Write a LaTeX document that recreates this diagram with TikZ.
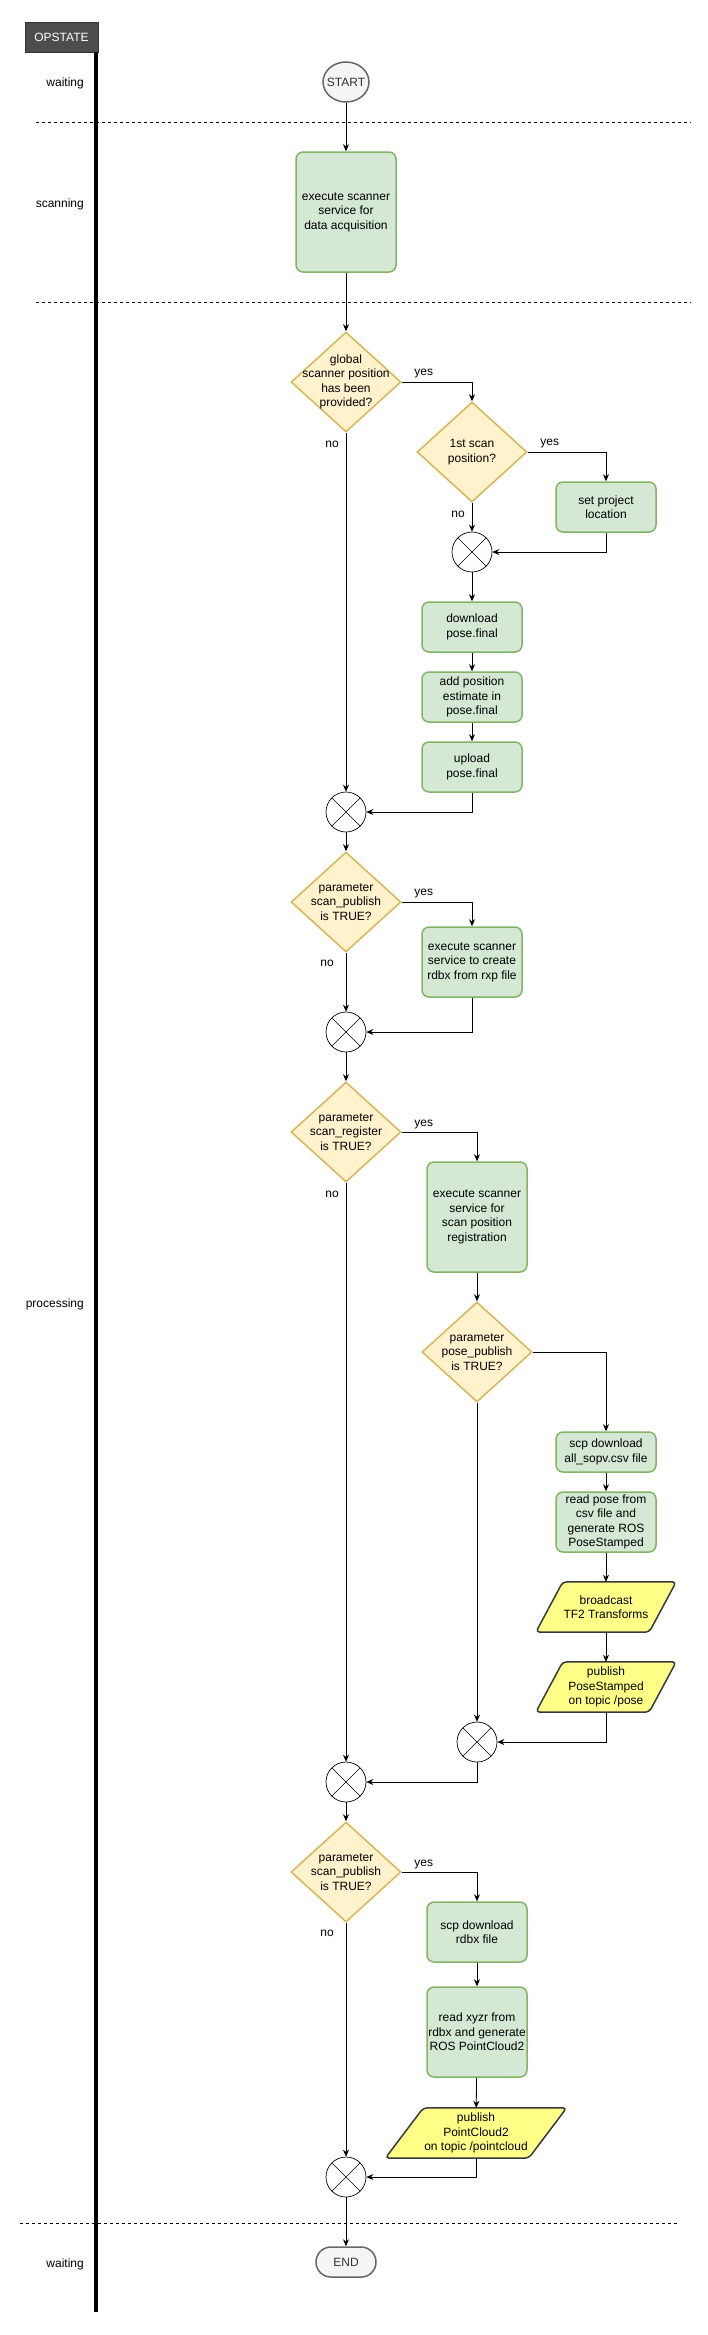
\documentclass[tikz,border=0pt]{standalone}
\usepackage{fontspec}
\setmainfont{Liberation Sans}
\usetikzlibrary{arrows.meta,shapes.geometric,backgrounds}
\definecolor{gfill}{HTML}{D5E8D4}
\definecolor{gline}{HTML}{82B366}
\definecolor{yfill}{HTML}{FFF2CC}
\definecolor{yline}{HTML}{D6B656}
\definecolor{pfill}{HTML}{FFFF88}
\definecolor{pline}{HTML}{36393D}
\definecolor{sfill}{HTML}{F5F5F5}
\definecolor{sline}{HTML}{666666}
\definecolor{stext}{HTML}{333333}
\definecolor{hdrgray}{HTML}{4D4D4D}
\begin{document}
\begin{tikzpicture}[x=1pt,y=-1pt,
  font=\fontsize{12}{14.5}\selectfont,
  proc/.style={draw=gline, fill=gfill, line width=1.5pt, rounded corners=7pt,
    minimum width=100pt, align=center, inner sep=1pt},
  decshape/.style={diamond, draw=yline, fill=yfill, line width=1.5pt,
    minimum width=110pt, minimum height=100pt, inner sep=0pt},
  txt/.style={align=center, inner sep=0pt},
  merge/.style={circle, draw, fill=white, line width=0.7pt, minimum size=40pt,
    inner sep=0pt,
    path picture={\draw[line width=0.6pt] (path picture bounding box.north west) -- (path picture bounding box.south east)
      (path picture bounding box.north east) -- (path picture bounding box.south west);}},
  iotext/.style={align=center, minimum height=50pt, inner sep=0pt},
  ioshape/.style={draw=pline, fill=pfill, line width=1.5pt, rounded corners=4pt},
  termshape/.style={draw=sline, fill=sfill, line width=1.5pt},
  hdrst/.style={fill=hdrgray, draw=black!80, text=white, minimum width=73pt,
    minimum height=30pt, inner sep=0pt},
  arr/.style={-{Stealth[length=7pt,width=6pt]}, line width=0.8pt},
  lane/.style={anchor=east, inner sep=0pt},
  lbl/.style={inner sep=0pt},
  sepline/.style={dash pattern=on 3pt off 3pt, line width=0.8pt}]
\useasboundingbox (0,0) rectangle (707,2335);

% lane separators
\draw[sepline] (36,122) -- (691,122);
\draw[sepline] (36,302) -- (691,302);
\draw[sepline] (20,2223) -- (677,2223);

% header and lane axis
\node[hdrst] (hdr) at (61.5,37) {OPSTATE};
\draw[line width=4pt] (96,52) -- (96,2312);

\node[lane] (lw1) at (84,83) {waiting};
\node[lane] (lsc) at (84,204) {scanning};
\node[lane] (lpr) at (84,1304) {processing};
\node[lane] (lw2) at (84,2264) {waiting};

% start
\node[ellipse, termshape, minimum width=46pt, minimum height=40pt, inner sep=0pt] (start) at (346,82) {};
\node[txt, text=stext] (startt) at (start) {START};

\node[proc, minimum height=120pt] (exec1) at (346,212) {execute scanner\\service for\\data acquisition};

% decision 1
\node[decshape] (d1) at (346,382) {};
\node[txt] (d1t) at (d1) {global\\scanner position\\has been\\provided?};

\node[decshape] (d2) at (472,452) {};
\node[txt] (d2t) at (d2) {1st scan\\position?};

\node[proc, minimum height=50pt] (setproj) at (606,507) {set project\\location};
\node[merge] (m1) at (472,552) {};
\node[proc, minimum height=50pt] (dl) at (472,627) {download\\pose.final};
\node[proc, minimum height=50pt] (add) at (472,697) {add position\\estimate in\\pose.final};
\node[proc, minimum height=50pt] (up) at (472,767) {upload\\pose.final};
\node[merge] (m2) at (346,812) {};

% decision 3
\node[decshape] (d3) at (346,902) {};
\node[txt] (d3t) at (d3) {parameter\\scan\_publish\\is TRUE?};
\node[proc, minimum height=70pt] (exec2) at (472,962) {execute scanner\\service to create\\rdbx from rxp file};
\node[merge] (m3) at (346,1032) {};

% decision 4
\node[decshape] (d4) at (346,1132) {};
\node[txt] (d4t) at (d4) {parameter\\scan\_register\\is TRUE?};
\node[proc, minimum height=110pt] (exec3) at (477,1217) {execute scanner\\service for\\scan position\\registration};

\node[decshape] (d5) at (477,1352) {};
\node[txt] (d5t) at (d5) {parameter\\pose\_publish\\is TRUE?};

\node[proc, minimum height=40pt] (scp1) at (606,1452) {scp download\\all\_sopv.csv file};
\node[proc, minimum height=60pt] (readpose) at (606,1522) {read pose from\\csv file and\\generate ROS\\PoseStamped};
\node[iotext, minimum width=140pt] (bcast) at (606,1607) {broadcast\\TF2 Transforms};
\node[iotext, minimum width=140pt] (pubpose) at (606,1687) {publish\\PoseStamped\\on topic /pose};
\node[merge] (m4) at (477,1742) {};
\node[merge] (m5) at (346,1782) {};

% decision 6
\node[decshape] (d6) at (346,1872) {};
\node[txt] (d6t) at (d6) {parameter\\scan\_publish\\is TRUE?};
\node[proc, minimum height=60pt] (scp2) at (477,1932) {scp download\\rdbx file};
\node[proc, minimum height=90pt] (readxyz) at (477,2032) {read xyzr from\\rdbx and generate\\ROS PointCloud2};
\node[iotext, minimum width=181pt] (pubpc) at (476,2133) {publish\\PointCloud2\\on topic /pointcloud};
\node[merge] (m6) at (346,2177) {};

\node[termshape, rounded corners=14.9pt, minimum width=60pt, minimum height=30pt, inner sep=0pt, text=stext] (endn) at (346,2262) {END};

% parallelogram outlines
\begin{scope}[on background layer]
\draw[ioshape] ([xshift=27pt]bcast.north west) -- (bcast.north east) -- ([xshift=-27pt]bcast.south east) -- (bcast.south west) -- cycle;
\draw[ioshape] ([xshift=27pt]pubpose.north west) -- (pubpose.north east) -- ([xshift=-27pt]pubpose.south east) -- (pubpose.south west) -- cycle;
\draw[ioshape] ([xshift=38pt]pubpc.north west) -- (pubpc.north east) -- ([xshift=-38pt]pubpc.south east) -- (pubpc.south west) -- cycle;
\end{scope}

% connectors
\draw[arr] (start) -- (exec1);
\draw[arr] (exec1) -- (d1);
\draw[arr] (d1.east) -| (d2.north);
\draw[arr] (d2.east) -| (setproj.north);
\draw[arr] (d2.south) -- (m1.north);
\draw[arr] (setproj.south) |- (m1.east);
\draw[arr] (m1) -- (dl);
\draw[arr] (dl) -- (add);
\draw[arr] (add) -- (up);
\draw[arr] (up.south) |- (m2.east);
\draw[arr] (d1.south) -- (m2.north);
\draw[arr] (m2) -- (d3);
\draw[arr] (d3.east) -| (exec2.north);
\draw[arr] (d3.south) -- (m3.north);
\draw[arr] (exec2.south) |- (m3.east);
\draw[arr] (m3) -- (d4);
\draw[arr] (d4.east) -| (exec3.north);
\draw[arr] (d4.south) -- (m5.north);
\draw[arr] (exec3) -- (d5);
\draw[arr] (d5.east) -| (scp1.north);
\draw[arr] (scp1) -- (readpose);
\draw[arr] (readpose) -- (bcast);
\draw[arr] (bcast) -- (pubpose);
\draw[arr] (pubpose.south) |- (m4.east);
\draw[arr] (d5.south) -- (m4.north);
\draw[arr] (m4.south) |- (m5.east);
\draw[arr] (m5) -- (d6);
\draw[arr] (d6.east) -| (scp2.north);
\draw[arr] (d6.south) -- (m6.north);
\draw[arr] (scp2) -- (readxyz);
\draw[arr] (readxyz) -- (pubpc);
\draw[arr] (pubpc.south) |- (m6.east);
\draw[arr] (m6) -- (endn);

% yes / no labels
\node[lbl] (y1) at ([shift={(22,-8)}]d1.east) {yes};
\node[lbl] (n1) at ([shift={(-14,12)}]d1.south) {no};
\node[lbl] (y2) at ([shift={(22,-8)}]d2.east) {yes};
\node[lbl] (n2) at ([shift={(-14,12)}]d2.south) {no};
\node[lbl] (y3) at ([shift={(22,-8)}]d3.east) {yes};
\node[lbl] (n3) at ([shift={(-19,11)}]d3.south) {no};
\node[lbl] (y4) at ([shift={(22,-8)}]d4.east) {yes};
\node[lbl] (n4) at ([shift={(-14,12)}]d4.south) {no};
\node[lbl] (y6) at ([shift={(22,-8)}]d6.east) {yes};
\node[lbl] (n6) at ([shift={(-19,11)}]d6.south) {no};
\end{tikzpicture}
\end{document}
